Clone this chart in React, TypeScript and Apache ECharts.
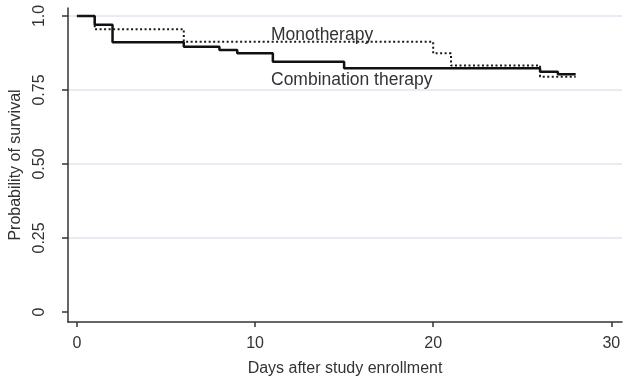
import React, { useEffect, useRef } from "react";
import * as echarts from "echarts";

// Kaplan–Meier steps (day, survival after the event)
const combinationDays = [0, 1, 2, 6, 8, 9, 11, 15, 26, 27, 28];
const combinationSurvival = [1.0, 0.97, 0.911, 0.896, 0.885, 0.874, 0.845, 0.823, 0.812, 0.803, 0.803];
const monoDays = [0, 1, 6, 20, 21, 26, 28];
const monoSurvival = [1.0, 0.955, 0.913, 0.874, 0.833, 0.795, 0.795];

const xTicks = [0, 10, 20, 30];
const yTicks = [0, 0.25, 0.5, 0.75, 1.0];
const yTickLabels = ["0", "0.25", "0.50", "0.75", "1.0"];
const gridLevels = [0.25, 0.5, 0.75, 1.0];

const FONT = "'Liberation Sans', Arial, sans-serif";
const TEXT = "#333333";

export default function App() {
  const ref = useRef<HTMLDivElement>(null);
  useEffect(() => {
    if (!ref.current) return;
    const chart = echarts.init(ref.current, undefined, { renderer: "svg" });
    const combo = combinationDays.map((d, i) => [d, combinationSurvival[i]]);
    const mono = monoDays.map((d, i) => [d, monoSurvival[i]]);
    chart.setOption({
      animation: false,
      textStyle: { fontFamily: FONT },
      grid: { left: 68, right: 5, top: 8, bottom: 56, containLabel: false, outerBoundsMode: "none" },
      xAxis: {
        type: "value",
        min: -0.5,
        max: 30.6,
        axisLine: { show: true, onZero: false, lineStyle: { color: "#333", width: 1.5 } },
        axisTick: { show: true, customValues: xTicks, length: 5, lineStyle: { color: "#333", width: 1.5 } },
        axisLabel: { customValues: xTicks, margin: 12, fontSize: 16, color: TEXT, fontFamily: FONT },
        splitLine: { show: false },
        name: "Days after study enrollment",
        nameLocation: "middle",
        nameGap: 37,
        nameTextStyle: { fontSize: 16, color: TEXT, fontFamily: FONT },
      },
      yAxis: {
        type: "value",
        min: -0.034,
        max: 1.027,
        axisLine: { show: true, onZero: false, lineStyle: { color: "#333", width: 1.5 } },
        axisTick: { show: true, customValues: yTicks, length: 6, lineStyle: { color: "#333", width: 1.5 } },
        axisLabel: {
          customValues: yTicks,
          rotate: 90,
          margin: 22,
          fontSize: 16,
          color: TEXT,
          fontFamily: FONT,
          formatter: (v: number) => {
            const i = yTicks.findIndex((t) => Math.abs(t - v) < 1e-6);
            return i >= 0 ? yTickLabels[i] : "";
          },
        },
        splitLine: { show: false },
        name: "Probability of survival",
        nameLocation: "middle",
        nameRotate: 90,
        nameGap: 41,
        nameTextStyle: { fontSize: 16, color: TEXT, fontFamily: FONT },
      },
      series: [
        {
          type: "line",
          data: [],
          z: 0,
          silent: true,
          markLine: {
            z: 0,
            silent: true,
            symbol: "none",
            label: { show: false },
            lineStyle: { color: "#e2e3ee", width: 1.5, type: "solid" },
            data: gridLevels.map((v) => ({ yAxis: v })),
          },
        },
        {
          name: "Monotherapy",
          type: "line",
          step: "end",
          data: mono,
          symbol: "none",
          z: 3,
          lineStyle: { color: "#1a1a1a", width: 2, type: [2, 2.5] },
        },
        {
          name: "Combination therapy",
          type: "line",
          step: "end",
          data: combo,
          symbol: "none",
          z: 2,
          lineStyle: { color: "#111", width: 2.5, type: "solid" },
        },
      ],
      graphic: [
        { type: "text", left: 271, top: 25, style: { text: "Monotherapy", fontSize: 17.5, fill: TEXT, fontFamily: FONT } },
        { type: "text", left: 271, top: 70, style: { text: "Combination therapy", fontSize: 17.5, fill: TEXT, fontFamily: FONT } },
      ],
    });
    return () => chart.dispose();
  }, []);
  return <div ref={ref} style={{ position: "fixed", left: 0, top: 0, width: 627, height: 378 }} />;
}
